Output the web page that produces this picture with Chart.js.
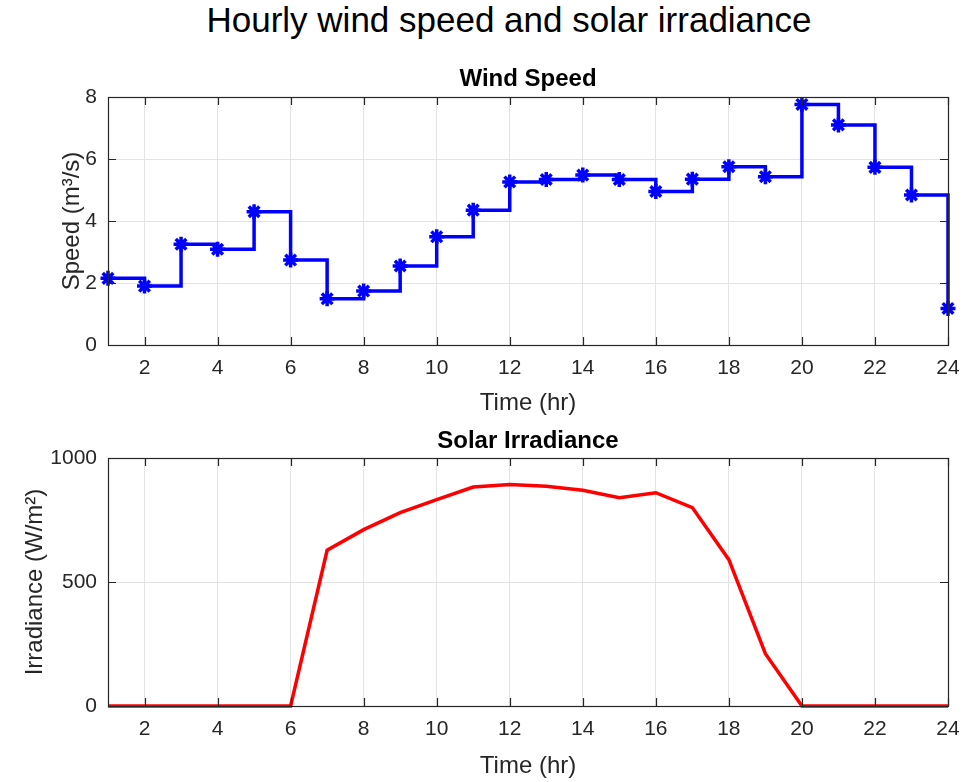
<!DOCTYPE html>
<html>
<head>
<meta charset="utf-8">
<script src="https://cdn.jsdelivr.net/npm/chart.js@4/dist/chart.umd.min.js"></script>
<style>
  body { margin: 0; background: #fff; }
  #wrap { position: relative; width: 964px; height: 782px; font-family: "Liberation Sans", Arial, sans-serif; }
  #mainTitle { position: absolute; top: 0px; left: 0; width: 1018px; text-align: center; font-size: 35px; color: #000; }
  .sub { position: absolute; left: 108px; width: 840px; text-align: center; font-size: 24px; font-weight: bold; color: #000; }
  .box { position: absolute; left: 0; width: 964px; }
</style>
</head>
<body>
<div id="wrap">
  <div id="mainTitle">Hourly wind speed and solar irradiance</div>
  <div class="box" style="top:0;height:420px"><canvas id="windChart" width="964" height="420"></canvas></div>
  <div class="box" style="top:420px;height:362px"><canvas id="solarChart" width="964" height="362"></canvas></div>
  <div class="sub" style="top:64px">Wind Speed</div>
  <div class="sub" style="top:426px">Solar Irradiance</div>
</div>
<script>
var hours = [1, 2, 3, 4, 5, 6, 7, 8, 9, 10, 11, 12, 13, 14, 15, 16, 17, 18, 19, 20, 21, 22, 23, 24];
var windSpeed = [2.15, 1.9, 3.25, 3.09, 4.3, 2.74, 1.49, 1.74, 2.55, 3.49, 4.35, 5.26,
  5.34, 5.48, 5.34, 4.95, 5.35, 5.75, 5.43, 7.76, 7.1, 5.73, 4.84, 1.18];
var irradiance = [0, 0, 0, 0, 0, 0, 628, 711, 780, 832, 883, 893,
  886, 870, 840, 860, 800, 590, 211, 0, 0, 0, 0, 0];
var hourTicks = [2, 4, 6, 8, 10, 12, 14, 16, 18, 20, 22, 24];
var speedTicks = [0, 2, 4, 6, 8];
var irrTicks = [0, 500, 1000];

var textColor = "#262626";
var gridColor = "#e3e3e3";
var fontFamily = "'Liberation Sans', Arial, sans-serif";

// box around the axes plus small inward tick marks, like matlab
var boxPlugin = {
  id: "axesBox",
  afterDatasetsDraw: function (chart) {
    var ctx = chart.ctx;
    var a = chart.chartArea;
    var xs = chart.scales.x, ys = chart.scales.y;
    ctx.save();
    ctx.strokeStyle = textColor;
    ctx.lineWidth = 1.2;
    ctx.strokeRect(a.left + 0.5, a.top + 0.5, a.right - a.left, a.bottom - a.top);
    ctx.beginPath();
    xs.ticks.forEach(function (t) {
      var px = Math.round(xs.getPixelForValue(t.value)) + 0.5;
      ctx.moveTo(px, a.bottom); ctx.lineTo(px, a.bottom - 8);
      ctx.moveTo(px, a.top); ctx.lineTo(px, a.top + 8);
    });
    ys.ticks.forEach(function (t) {
      var py = Math.round(ys.getPixelForValue(t.value)) + 0.5;
      ctx.moveTo(a.left, py); ctx.lineTo(a.left + 8, py);
      ctx.moveTo(a.right, py); ctx.lineTo(a.right - 8, py);
    });
    ctx.stroke();
    ctx.restore();
  }
};

function makeOptions(padTop, yLabel, yLabelPad, yTicks, yMax, xHeight, xTitleBottom) {
  return {
    responsive: false,
    animation: false,
    layout: { padding: { top: padTop, right: 16, left: 0, bottom: 0 } },
    plugins: {
      legend: { display: false },
      tooltip: { enabled: false },
      title: { display: false }
    },
    scales: {
      x: {
        type: "linear",
        min: 1,
        max: 24,
        afterBuildTicks: function (s) {
          s.ticks = hourTicks.map(function (v) { return { value: v }; });
        },
        afterFit: function (s) {
          s.height = xHeight;
          s.paddingRight = 0;
          s.paddingLeft = 0;
        },
        grid: { color: gridColor, drawTicks: false },
        border: { display: false },
        ticks: { color: textColor, padding: 11, maxRotation: 0, font: { family: fontFamily, size: 21 } },
        title: {
          display: true,
          text: "Time (hr)",
          color: textColor,
          font: { family: fontFamily, size: 24 },
          padding: { top: 0, bottom: xTitleBottom }
        }
      },
      y: {
        min: 0,
        max: yMax,
        afterBuildTicks: function (s) {
          s.ticks = yTicks.map(function (v) { return { value: v }; });
        },
        afterFit: function (s) {
          s.width = 108;
          s.paddingTop = 0;
          s.paddingBottom = 0;
        },
        grid: { color: gridColor, drawTicks: false },
        border: { display: false },
        ticks: {
          color: textColor,
          padding: 11,
          font: { family: fontFamily, size: 21 },
          callback: function (v) { return String(v); }
        },
        title: {
          display: true,
          text: yLabel,
          color: textColor,
          font: { family: fontFamily, size: 24 },
          padding: { top: yLabelPad, bottom: 0 }
        }
      }
    }
  };
}

var windBox = document.getElementById("windChart");
var chart1 = new Chart(windBox, {
  type: "line",
  data: {
    datasets: [
      {
        data: hours.map(function (h, i) { return { x: h, y: windSpeed[i] }; }),
        borderColor: "#0000ff",
        borderWidth: 3.5,
        stepped: "before",
        pointStyle: "star",
        pointRadius: 7.5,
        pointBorderWidth: 3.5,
        pointBorderColor: "#0000ff",
        pointBackgroundColor: "#0000ff",
        clip: false
      }
    ]
  },
  options: makeOptions(97, "Speed (m\u00b3/s)", 58, speedTicks, 8, 75, 2),
  plugins: [boxPlugin]
});

var solarBox = document.getElementById("solarChart");
var chart2 = new Chart(solarBox, {
  type: "line",
  data: {
    datasets: [
      {
        data: hours.map(function (h, i) { return { x: h, y: irradiance[i] }; }),
        borderColor: "#ff0000",
        borderWidth: 3.5,
        pointRadius: 0,
        clip: false
      }
    ]
  },
  options: makeOptions(38, "Irradiance (W/m\u00b2)", 21, irrTicks, 1000, 76, 1),
  plugins: [boxPlugin]
});
</script>
</body>
</html>
